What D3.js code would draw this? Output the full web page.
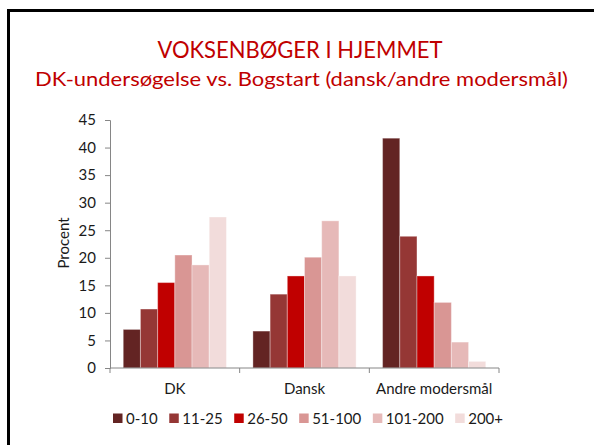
<!DOCTYPE html>
<html>
<head>
<meta charset="utf-8">
<script src="https://cdn.jsdelivr.net/npm/d3@7/dist/d3.min.js"></script>
<style>
  html, body { margin: 0; padding: 0; background: #fff; }
  svg { display: block; }
  text { font-family: Lato, "Open Sans", sans-serif; }
</style>
</head>
<body>
<svg id="chart" width="594" height="445"></svg>
<script>
const categories = ["DK", "Dansk", "Andre modersmål"];
const seriesNames = ["0-10", "11-25", "26-50", "51-100", "101-200", "200+"];
const values_0_10   = [7.0, 6.7, 41.7];
const values_11_25  = [10.7, 13.4, 23.9];
const values_26_50  = [15.5, 16.7, 16.7];
const values_51_100 = [20.5, 20.1, 11.9];
const values_101_200 = [18.7, 26.7, 4.7];
const values_200p   = [27.4, 16.7, 1.2];
const seriesValues = [values_0_10, values_11_25, values_26_50, values_51_100, values_101_200, values_200p];
const colors = ["#632423", "#953735", "#C00000", "#D99694", "#E6B9B8", "#F2DCDB"];
const yTicks = [0, 5, 10, 15, 20, 25, 30, 35, 40, 45];
const titleText = "VOKSENBØGER I HJEMMET";
const subtitleText = "DK-undersøgelse vs. Bogstart (dansk/andre modersmål)";
const yLabel = "Procent";

(function () {
const svg = d3.select("#chart");
const FS = 15;
const txtCol = "#1a1a1a";

// Frame
svg.append("rect")
  .attr("x", 8.5).attr("y", 10.5)
  .attr("width", 700).attr("height", 600)
  .attr("fill", "none").attr("stroke", "#000").attr("stroke-width", 3);

// Titles
svg.append("text")
  .attr("x", 300).attr("y", 57.5)
  .attr("text-anchor", "middle")
  .attr("font-size", 23)
  .attr("fill", "#C00000")
  .attr("textLength", 285).attr("lengthAdjust", "spacingAndGlyphs")
  .text(titleText);
svg.append("text")
  .attr("x", 301.5).attr("y", 86)
  .attr("text-anchor", "middle")
  .attr("font-size", 20)
  .attr("fill", "#C00000")
  .attr("textLength", 533).attr("lengthAdjust", "spacingAndGlyphs")
  .text(subtitleText);

const pLeft = 110, pRight = 499, pTop = 120, pBottom = 368;

const x = d3.scaleBand().domain(categories).range([pLeft, pRight]).padding(0);
const xs = d3.scaleBand().domain(seriesNames).range([0, x.bandwidth()])
  .paddingInner(0).paddingOuter(0.77);
const y = d3.scaleLinear().domain([0, 45]).range([pBottom, pTop]);

// Bars
const g = svg.append("g");
seriesNames.forEach((s, si) => {
  g.selectAll(null)
    .data(categories.map((c, ci) => ({ c, v: seriesValues[si][ci] })))
    .enter().append("rect")
    .attr("x", d => x(d.c) + xs(s))
    .attr("y", d => y(d.v))
    .attr("width", xs.bandwidth())
    .attr("height", d => y(0) - y(d.v))
    .attr("fill", colors[si])
    .attr("stroke", "rgba(255,255,255,0.35)")
    .attr("stroke-width", 1);
});

// Y axis
const yAxis = d3.axisLeft(y).tickValues(yTicks).tickSize(5).tickPadding(9);
const yg = svg.append("g").attr("transform", `translate(${pLeft},0)`).call(yAxis);
yg.select(".domain").attr("stroke", "#868686");
yg.selectAll(".tick line").attr("stroke", "#868686");
yg.selectAll(".tick text").attr("font-size", FS).attr("fill", txtCol)
  .attr("font-family", "Lato, 'Open Sans', sans-serif");

// X axis
const xAxis = d3.axisBottom(x).tickSize(0).tickPadding(15);
const xg = svg.append("g").attr("transform", `translate(0,${pBottom})`).call(xAxis);
xg.select(".domain").attr("stroke", "#868686").attr("d", `M${pLeft},0H${pRight}`);
xg.selectAll(".tick text").attr("font-size", FS).attr("fill", txtCol)
  .attr("font-family", "Lato, 'Open Sans', sans-serif");
const bounds = categories.map(c => x(c)).concat([x(categories[categories.length - 1]) + x.bandwidth()]);
xg.selectAll(".bound").data(bounds).enter().append("line")
  .attr("x1", d => d).attr("x2", d => d).attr("y1", 0).attr("y2", 5)
  .attr("stroke", "#868686");

// Y label
svg.append("text")
  .attr("transform", `translate(69,243) rotate(-90)`)
  .attr("text-anchor", "middle")
  .attr("font-size", FS)
  .attr("fill", txtCol)
  .text(yLabel);

// Legend
const legend = svg.append("g");
const legItems = [];
let sumW = 0;
seriesNames.forEach((s, i) => {
  const it = legend.append("g");
  it.append("rect").attr("x", 0).attr("y", 413.5).attr("width", 9.5).attr("height", 9.5).attr("fill", colors[i]);
  const t = it.append("text").attr("x", 13).attr("y", 423.5).attr("font-size", FS).attr("fill", txtCol).text(s);
  const w = 13 + t.node().getComputedTextLength();
  legItems.push({ it, w });
  sumW += w;
});
const legStart = 113, legEnd = 503;
const gap = (legEnd - legStart - sumW) / (seriesNames.length - 1);
let lx = legStart;
legItems.forEach(({ it, w }) => {
  it.attr("transform", `translate(${lx},0)`);
  lx += w + gap;
});
})();
</script>
</body>
</html>
